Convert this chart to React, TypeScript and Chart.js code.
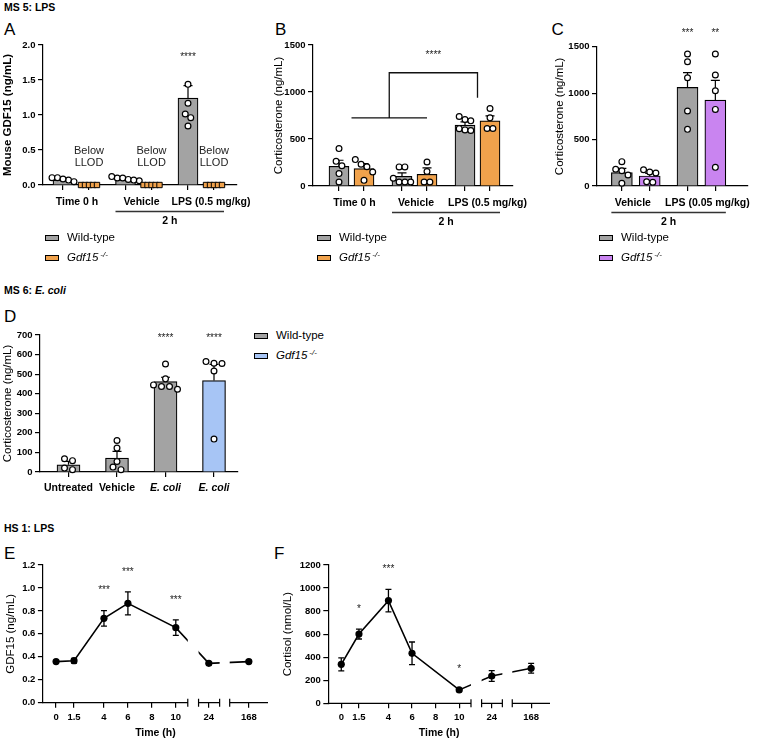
import { useEffect, useRef } from 'react';
import { Chart, registerables, LinearScale } from 'chart.js';

Chart.register(...registerables);

const FONT = '"Liberation Sans", Arial, Helvetica, sans-serif';
Chart.defaults.font.family = FONT;
Chart.defaults.color = '#000';

const GRAY = '#a3a3a3';
const ORANGE = '#f0a24c';
const PURPLE = '#c984f0';
const BLUE = '#a7c5f5';

// ---------------- DATA ----------------
// Panel A (MS 5: LPS, mouse GDF15)
const A_GROUPS = ['Time 0 h', 'Vehicle', 'LPS (0.5 mg/kg)'];
const A_WT_MEAN = [0.07, 0.075, 1.24];
const A_WT_SEM = [0.012, 0.01, 0.18];
const A_WT_DOTS = [
  [0.07, 0.105, 0.105, 0.086, 0.048],
  [0.06, 0.1, 0.12, 0.1, 0.08, 0.07],
  [1.438, 1.167, 1.014, 0.962, 0.843],
];
const A_KO_DOTS = [
  [0, 0, 0, 0, 0],
  [0, 0, 0, 0, 0],
  [0, 0, 0, 0, 0],
];
const A_Y_TICKS = [0, 0.5, 1, 1.5, 2];

// Panel B (corticosterone, LPS 0.5 mg/kg)
const B_GROUPS = ['Time 0 h', 'Vehicle', 'LPS (0.5 mg/kg)'];
const B_WT_MEAN = [210, 103, 647];
const B_WT_SEM = [64, 36, 36];
const B_WT_DOTS = [
  [398, 262, 215, 132, 43],
  [203, 203, 83, 43, 43, 43],
  [740, 707, 693, 610, 597, 590],
];
const B_KO_MEAN = [185, 124, 693];
const B_KO_SEM = [53, 68, 54];
const B_KO_DOTS = [
  [281, 231, 204, 149, 60],
  [256, 154, 43, 43],
  [825, 725, 611, 611],
];
const B_Y_TICKS = [0, 500, 1000, 1500];

// Panel C (corticosterone, LPS 0.05 mg/kg)
const C_GROUPS = ['Vehicle', 'LPS (0.05 mg/kg)'];
const C_WT_MEAN = [144, 1062];
const C_WT_SEM = [46, 158];
const C_WT_DOTS = [
  [262, 180, 165, 118, 29],
  [1421, 1338, 1166, 807, 610],
];
const C_KO_MEAN = [108, 926];
const C_KO_SEM = [28, 211];
const C_KO_DOTS = [
  [175, 150, 140, 45, 40],
  [1421, 1195, 1026, 825, 201],
];
const C_Y_TICKS = [0, 500, 1000, 1500];

// Panel D (MS 6: E. coli)
const D_GROUPS = ['Untreated', 'Vehicle', 'E. coli', 'E. coli'];
const D_MEAN = [37, 71, 462, 467];
const D_SEM = [17, 34, 22, 83];
const D_DOTS = [
  [58, 68, 12, 20],
  [161, 122, 54, 25, 12],
  [552, 476, 445, 437, 437, 423],
  [564, 556, 554, 516, 168],
];
const D_Y_TICKS = [0, 100, 200, 300, 400, 500, 600, 700];

// Panels E, F (HS 1: LPS, humans)
const TIMES = [0, 1.5, 4, 6, 10, 24, 168];
const X_TICKS = [0, 1.5, 4, 6, 8, 10, 24, 168];
const E_MEAN = [0.358, 0.366, 0.735, 0.866, 0.654, 0.343, 0.358];
const E_SEM = [0.01, 0.02, 0.068, 0.1, 0.068, 0.01, 0.01];
const E_STARS = ['', '', '***', '***', '***', '', ''];
const E_Y_TICKS = [0, 0.2, 0.4, 0.6, 0.8, 1.0, 1.2];
const F_MEAN = [338, 601, 891, 434, 116, 237, 304];
const F_SEM = [57, 43, 97, 98, 8, 47, 42];
const F_STARS = ['', '*', '***', '', '*', '', ''];
const F_Y_TICKS = [0, 200, 400, 600, 800, 1000, 1200];

// ---------------- BROKEN TIME AXIS ----------------
const SEG = [
  { r0: -1.1, r1: 11, v0: -1.1 },
  { r0: 23.14, r1: 24.9, v0: 11.9 },
  { r0: 166.4, r1: 169.6, v0: 14.5 },
];
const V_MIN = -1.1;
const V_MAX = 17.7;

function toVirtual(v: number): number {
  for (let i = 0; i < SEG.length; i++) {
    const s = SEG[i];
    if (v < s.r0 && i > 0) {
      const p = SEG[i - 1];
      const pe = p.v0 + (p.r1 - p.r0);
      return pe + ((v - p.r1) / (s.r0 - p.r1)) * (s.v0 - pe);
    }
    if (v <= s.r1 || i === SEG.length - 1) return s.v0 + (v - s.r0);
  }
  return v;
}

class BrokenScale extends (LinearScale as any) {
  static id = 'broken';
  static defaults = (LinearScale as any).defaults;
  getUserBounds() {
    return { min: V_MIN, max: V_MAX, minDefined: false, maxDefined: false };
  }
  determineDataLimits() {
    (this as any).min = V_MIN;
    (this as any).max = V_MAX;
  }
  getPixelForValue(value: any) {
    if (value === null || value === undefined || isNaN(value)) return NaN;
    return super.getPixelForValue(toVirtual(Number(value)));
  }
}
Chart.register(BrokenScale as any);

// ---------------- HELPERS ----------------
function swarm(vals: number[], pxPerUnit: number, spacing: number, thresh: number) {
  const idx = vals.map((_, i) => i).sort((a, b) => vals[b] - vals[a]);
  const rows: number[][] = [];
  let cur: number[] = [];
  for (const i of idx) {
    if (cur.length && (vals[cur[cur.length - 1]] - vals[i]) * pxPerUnit > thresh) {
      rows.push(cur);
      cur = [];
    }
    cur.push(i);
  }
  if (cur.length) rows.push(cur);
  const off = new Array(vals.length).fill(0);
  rows.forEach((r) => r.forEach((i, k) => (off[i] = (k - (r.length - 1) / 2) * spacing)));
  return off;
}

function drawText(ctx: CanvasRenderingContext2D, str: string, x: number, y: number, size: number, weight = 'normal', color = '#000') {
  ctx.font = `normal ${weight} ${size}px ${FONT}`;
  ctx.fillStyle = color;
  ctx.textAlign = 'center';
  ctx.textBaseline = 'middle';
  ctx.fillText(str, x, y);
}

const axisCommon = {
  grid: { drawOnChartArea: false, tickLength: 5, color: '#000', lineWidth: 1.2 },
  border: { color: '#000', width: 1.2 },
};

function yAxis(sp: any, yw: number) {
  return {
    type: 'linear',
    position: 'left',
    min: 0,
    max: sp.yMax,
    bounds: 'data',
    afterBuildTicks: (s: any) => {
      s.ticks = sp.yTicks.map((v: number) => ({ value: v }));
    },
    ticks: {
      callback: (v: any) => Number(v).toFixed(sp.yDecimals),
      font: { size: 9.5, weight: 'bold' },
      color: '#000',
      padding: 2.5,
      autoSkip: false,
    },
    ...axisCommon,
    title: {
      display: true,
      text: sp.yTitle,
      font: { size: 11.5, weight: sp.yTitleBold ? 'bold' : 'normal' },
      color: '#000',
      padding: { top: 0, bottom: 0 },
    },
    afterFit: (s: any) => {
      s.width = yw;
    },
  };
}

// ---------------- BAR PANELS ----------------
function buildBarConfig(sp: any) {
  const bars: any[] = [];
  sp.groups.forEach((_: string, g: number) =>
    sp.series.forEach((se: any, s: number) => {
      bars.push({
        g,
        s,
        x: sp.start + g * sp.group + s * sp.pair,
        mean: se.means[g],
        sem: se.sems[g],
        dots: se.dots[g],
        color: Array.isArray(se.color) ? se.color[g] : se.color,
        llod: !!se.llod,
      });
    })
  );
  const find = (g: number, s: number) => bars.find((b) => b.g === g && b.s === s);
  const centers = sp.groups.map((_: string, g: number) => {
    const bs = bars.filter((b) => b.g === g);
    return bs.reduce((a, b) => a + b.x, 0) / bs.length;
  });
  const labelPos = centers.map((c: number, g: number) => c + (sp.labelShift ? sp.labelShift[g] : 0));
  const pxPerUnit = (sp.B - sp.T) / sp.yMax;
  const dotPts: any[] = [];
  const llodPts: any[] = [];
  bars.forEach((b) => {
    if (b.llod) {
      const n = b.dots.length;
      b.dots.forEach((v: number, k: number) => llodPts.push({ x: b.x + (k - (n - 1) / 2) * 4, y: v }));
    } else {
      const off = swarm(b.dots, pxPerUnit, sp.dotSpacing, 5.5);
      b.dots.forEach((v: number, k: number) => dotPts.push({ x: b.x + off[k], y: v }));
    }
  });
  const solid = bars.filter((b) => !b.llod && b.mean != null);
  const xw = sp.R - sp.L;
  const yw = sp.L - sp.canvasLeft;

  const plugin = {
    id: 'barAnno',
    afterDatasetDraw(chart: any, args: any) {
      if (args.index !== 0) return;
      const ctx = chart.ctx;
      const xs = chart.scales.x;
      const ys = chart.scales.y;
      ctx.save();
      ctx.strokeStyle = '#000';
      ctx.lineWidth = 1.2;
      for (const b of solid) {
        const x = xs.getPixelForValue(b.x);
        const y1 = ys.getPixelForValue(b.mean);
        const y2 = ys.getPixelForValue(b.mean + b.sem);
        ctx.beginPath();
        ctx.moveTo(x, y1);
        ctx.lineTo(x, y2);
        ctx.moveTo(x - 4.5, y2);
        ctx.lineTo(x + 4.5, y2);
        ctx.stroke();
      }
      ctx.restore();
    },
    afterDraw(chart: any) {
      const ctx = chart.ctx;
      const xs = chart.scales.x;
      const ys = chart.scales.y;
      const area = chart.chartArea;
      ctx.save();
      if (sp.stars) {
        for (const st of sp.stars) {
          const b = find(st.g, st.s);
          drawText(ctx, st.text, xs.getPixelForValue(b.x), ys.getPixelForValue(sp.starLevel), 10, 'normal', '#222');
        }
      }
      if (sp.llodLevel != null) {
        bars
          .filter((b) => b.llod)
          .forEach((b) => {
            const x = xs.getPixelForValue(b.x);
            const y = ys.getPixelForValue(sp.llodLevel);
            drawText(ctx, 'Below', x, y, 11, 'normal', '#222');
            drawText(ctx, 'LLOD', x, y + 12, 11, 'normal', '#222');
          });
      }
      if (sp.bracket) {
        const br = sp.bracket;
        const xa = xs.getPixelForValue(centers[br.lowFromGroup]);
        const lt = find(br.lowTo[0], br.lowTo[1]);
        const xb = xs.getPixelForValue(lt.x);
        const xm = (xa + xb) / 2;
        const xr = xs.getPixelForValue(centers[br.rightGroup]);
        const yl = ys.getPixelForValue(br.lowY);
        const yt = ys.getPixelForValue(br.topY);
        const yr = ys.getPixelForValue(br.rightY);
        ctx.strokeStyle = '#111';
        ctx.lineWidth = 1.3;
        ctx.beginPath();
        ctx.moveTo(xa, yl);
        ctx.lineTo(xb, yl);
        ctx.moveTo(xm, yl);
        ctx.lineTo(xm, yt);
        ctx.lineTo(xr, yt);
        ctx.lineTo(xr, yr);
        ctx.stroke();
        drawText(ctx, br.text, (xm + xr) / 2, ys.getPixelForValue(br.textY), 10, 'normal', '#222');
      }
      if (sp.underline) {
        const u = sp.underline;
        const b1 = find(u.from[0], u.from[1]);
        const b2 = find(u.to[0], u.to[1]);
        const x1 = xs.getPixelForValue(b1.x) - sp.barWidth / 2;
        const x2 = xs.getPixelForValue(b2.x) + sp.barWidth / 2;
        const y = area.bottom + 26.5;
        ctx.strokeStyle = '#333';
        ctx.lineWidth = 1.3;
        ctx.beginPath();
        ctx.moveTo(x1, y);
        ctx.lineTo(x2, y);
        ctx.stroke();
        drawText(ctx, u.label, (x1 + x2) / 2, area.bottom + 36.5, 10.5, 'bold', '#000');
      }
      ctx.restore();
    },
  };

  const xBase = {
    type: 'linear',
    min: 0,
    max: xw,
    bounds: 'data',
    offset: false,
  };

  return {
    type: 'bar',
    data: {
      datasets: [
        {
          type: 'bar',
          data: solid.map((b) => ({ x: b.x, y: b.mean })),
          backgroundColor: solid.map((b) => b.color),
          borderColor: '#000',
          borderWidth: 1.2,
          barThickness: sp.barWidth,
          order: 2,
          xAxisID: 'x',
          yAxisID: 'y',
        },
        {
          type: 'scatter',
          data: dotPts,
          pointRadius: 2.9,
          pointBackgroundColor: '#fff',
          pointBorderColor: '#000',
          pointBorderWidth: 1.2,
          order: 1,
          clip: false,
          xAxisID: 'x',
          yAxisID: 'y',
        },
        {
          type: 'scatter',
          data: llodPts,
          pointStyle: 'rect',
          pointRadius: 3.8,
          pointBackgroundColor: ORANGE,
          pointBorderColor: '#000',
          pointBorderWidth: 1,
          order: 0,
          clip: false,
          xAxisID: 'x',
          yAxisID: 'y',
        },
      ],
    },
    options: {
      responsive: false,
      maintainAspectRatio: false,
      animation: false,
      events: [],
      layout: {
        padding: {
          top: sp.T - sp.canvasTop,
          right: sp.canvasRight - sp.R,
          bottom: sp.canvasBottom - (sp.B + 26),
          left: 0,
        },
      },
      plugins: { legend: { display: false }, tooltip: { enabled: false } },
      scales: {
        x: {
          ...xBase,
          position: 'bottom',
          weight: 0,
          afterBuildTicks: (s: any) => {
            s.ticks = bars.map((b) => ({ value: b.x }));
          },
          ticks: { display: false, autoSkip: false },
          grid: { ...axisCommon.grid, offset: false },
          border: axisCommon.border,
          afterFit: (s: any) => {
            s.height = 6;
          },
        },
        x2: {
          ...xBase,
          axis: 'x',
          position: 'bottom',
          weight: 1,
          afterBuildTicks: (s: any) => {
            s.ticks = labelPos.map((v: number) => ({ value: v }));
          },
          ticks: {
            callback: (_v: any, i: number) => sp.groups[i],
            autoSkip: false,
            maxRotation: 0,
            minRotation: 0,
            color: '#000',
            padding: sp.labelPad,
            font: (c: any) => ({
              size: 10.5,
              weight: 'bold',
              style: sp.groups[c.index] && sp.groups[c.index].indexOf('E. coli') >= 0 ? 'italic' : 'normal',
            }),
          },
          grid: { display: false, drawTicks: false, offset: false },
          border: { display: false },
          afterFit: (s: any) => {
            s.height = 20;
          },
        },
        y: yAxis(sp, yw),
      },
    },
    plugins: [plugin],
  };
}

// ---------------- LINE PANELS ----------------
function buildLineConfig(sp: any) {
  const yw = sp.L - sp.canvasLeft;
  const plugin = {
    id: 'lineAnno',
    afterDatasetsDraw(chart: any) {
      const ctx = chart.ctx;
      const xs = chart.scales.x;
      const ys = chart.scales.y;
      const area = chart.chartArea;
      ctx.save();
      // gaps of the broken axis
      ctx.fillStyle = '#fff';
      for (let i = 0; i < SEG.length - 1; i++) {
        const a = xs.getPixelForValue(SEG[i].r1);
        const b = xs.getPixelForValue(SEG[i + 1].r0);
        ctx.fillRect(a, area.top - 2, b - a, area.bottom - area.top);
      }
      // error bars
      ctx.strokeStyle = '#000';
      ctx.lineWidth = 1.3;
      TIMES.forEach((t, i) => {
        const x = xs.getPixelForValue(t);
        const y1 = ys.getPixelForValue(sp.mean[i] - sp.sem[i]);
        const y2 = ys.getPixelForValue(sp.mean[i] + sp.sem[i]);
        ctx.beginPath();
        ctx.moveTo(x, y1);
        ctx.lineTo(x, y2);
        ctx.moveTo(x - 3, y1);
        ctx.lineTo(x + 3, y1);
        ctx.moveTo(x - 3, y2);
        ctx.lineTo(x + 3, y2);
        ctx.stroke();
        if (sp.stars[i]) drawText(ctx, sp.stars[i], x, y2 - 20, 10, 'normal', '#222');
      });
      // axis segments
      const y = area.bottom;
      ctx.lineWidth = 1.2;
      ctx.beginPath();
      SEG.forEach((s, i) => {
        const a = i === 0 ? area.left : xs.getPixelForValue(s.r0);
        const b = i === SEG.length - 1 ? area.right : xs.getPixelForValue(s.r1);
        ctx.moveTo(a - (i === 0 ? 0.6 : 0), y);
        ctx.lineTo(b, y);
        if (i > 0) {
          ctx.moveTo(a, y - 4);
          ctx.lineTo(a, y + 4);
        }
        if (i < SEG.length - 1) {
          ctx.moveTo(b, y - 4);
          ctx.lineTo(b, y + 4);
        }
      });
      ctx.stroke();
      ctx.restore();
    },
  };
  return {
    type: 'line',
    data: {
      datasets: [
        {
          data: TIMES.map((t, i) => ({ x: t, y: sp.mean[i] })),
          borderColor: '#000',
          borderWidth: 1.6,
          pointRadius: 3.6,
          pointBackgroundColor: '#000',
          pointBorderColor: '#000',
          pointBorderWidth: 0,
          tension: 0,
        },
      ],
    },
    options: {
      responsive: false,
      maintainAspectRatio: false,
      animation: false,
      events: [],
      layout: {
        padding: { top: sp.T - sp.canvasTop, right: sp.canvasRight - sp.R, bottom: 0, left: 0 },
      },
      plugins: { legend: { display: false }, tooltip: { enabled: false } },
      scales: {
        x: {
          type: 'broken',
          position: 'bottom',
          bounds: 'data',
          offset: false,
          afterBuildTicks: (s: any) => {
            s.ticks = X_TICKS.map((v) => ({ value: v }));
          },
          ticks: {
            callback: (v: any) => String(v),
            autoSkip: false,
            maxRotation: 0,
            minRotation: 0,
            font: { size: 9.5, weight: 'bold' },
            color: '#000',
            padding: 3.6,
          },
          grid: { drawOnChartArea: false, tickLength: 5, color: '#000', lineWidth: 1.2 },
          border: { display: false },
          title: {
            display: true,
            text: 'Time (h)',
            font: { size: 10.5, weight: 'bold' },
            color: '#000',
            padding: { top: 0, bottom: 3.7 },
          },
          afterFit: (s: any) => {
            s.height = sp.canvasBottom - sp.B;
          },
        },
        y: yAxis(sp, yw),
      },
    },
    plugins: [plugin],
  };
}

// ---------------- SPECS ----------------
const SPEC_A = {
  L: 43, T: 45, R: 237, B: 185,
  canvasLeft: 1, canvasTop: 30, canvasRight: 262, canvasBottom: 233,
  yMax: 2, yTicks: A_Y_TICKS, yDecimals: 1, yTitle: 'Mouse GDF15 (ng/mL)', yTitleBold: true,
  groups: A_GROUPS, labelShift: [1, 3, 10],
  series: [
    { color: GRAY, means: A_WT_MEAN, sems: A_WT_SEM, dots: A_WT_DOTS },
    { color: ORANGE, means: [null, null, null], sems: [0, 0, 0], dots: A_KO_DOTS, llod: true },
  ],
  start: 20, pair: 26, group: 62.5, barWidth: 20, dotSpacing: 5.5, labelPad: 4.7,
  stars: [{ g: 2, s: 0, text: '****' }], starLevel: 1.83, llodLevel: 0.49,
  underline: { from: [1, 0], to: [2, 1], label: '2 h' },
};

const SPEC_B = {
  L: 313, T: 45, R: 513, B: 186,
  canvasLeft: 272, canvasTop: 30, canvasRight: 545, canvasBottom: 234,
  yMax: 1500, yTicks: B_Y_TICKS, yDecimals: 0, yTitle: 'Corticosterone (ng/mL)', yTitleBold: false,
  groups: B_GROUPS, labelShift: [3, 1.5, 10],
  series: [
    { color: GRAY, means: B_WT_MEAN, sems: B_WT_SEM, dots: B_WT_DOTS },
    { color: ORANGE, means: B_KO_MEAN, sems: B_KO_SEM, dots: B_KO_DOTS },
  ],
  start: 26, pair: 25, group: 63, barWidth: 20, dotSpacing: 5.8, labelPad: 4.7,
  bracket: { lowFromGroup: 0, lowTo: [1, 1], rightGroup: 2, lowY: 725, topY: 1205, rightY: 940, text: '****', textY: 1390 },
  underline: { from: [1, 0], to: [2, 1], label: '2 h' },
};

const SPEC_C = {
  L: 597, T: 46.7, R: 748, B: 186,
  canvasLeft: 553, canvasTop: 18, canvasRight: 757, canvasBottom: 234,
  yMax: 1500, yTicks: C_Y_TICKS, yDecimals: 0, yTitle: 'Corticosterone (ng/mL)', yTitleBold: false,
  groups: C_GROUPS, labelShift: [-3, 6],
  series: [
    { color: GRAY, means: C_WT_MEAN, sems: C_WT_SEM, dots: C_WT_DOTS },
    { color: PURPLE, means: C_KO_MEAN, sems: C_KO_SEM, dots: C_KO_DOTS },
  ],
  start: 25, pair: 28, group: 66, barWidth: 21, dotSpacing: 6.2, labelPad: 4.7,
  stars: [{ g: 1, s: 0, text: '***' }, { g: 1, s: 1, text: '**' }], starLevel: 1645,
  underline: { from: [0, 0], to: [1, 1], label: '2 h' },
};

const SPEC_D = {
  L: 40, T: 335, R: 238, B: 472,
  canvasLeft: 1, canvasTop: 320, canvasRight: 250, canvasBottom: 498,
  yMax: 700, yTicks: D_Y_TICKS, yDecimals: 0, yTitle: 'Corticosterone (ng/mL)', yTitleBold: false,
  groups: D_GROUPS,
  series: [{ color: [GRAY, GRAY, GRAY, BLUE], means: D_MEAN, sems: D_SEM, dots: D_DOTS }],
  start: 28.5, pair: 0, group: 48.5, barWidth: 23, dotSpacing: 8, labelPad: 4,
  stars: [{ g: 2, s: 0, text: '****' }, { g: 3, s: 0, text: '****' }], starLevel: 683,
};

const SPEC_E = {
  L: 43.3, T: 565, R: 268, B: 702.7,
  canvasLeft: 4.4, canvasTop: 550, canvasRight: 276, canvasBottom: 743,
  yMax: 1.2, yTicks: E_Y_TICKS, yDecimals: 1, yTitle: 'GDF15 (ng/mL)', yTitleBold: false,
  mean: E_MEAN, sem: E_SEM, stars: E_STARS,
};

const SPEC_F = {
  L: 328.3, T: 565, R: 550, B: 703.3,
  canvasLeft: 281, canvasTop: 550, canvasRight: 560, canvasBottom: 743,
  yMax: 1200, yTicks: F_Y_TICKS, yDecimals: 0, yTitle: 'Cortisol (nmol/L)', yTitleBold: false,
  mean: F_MEAN, sem: F_SEM, stars: F_STARS,
};

// ---------------- COMPONENTS ----------------
function ChartBox({ sp, kind }: { sp: any; kind: 'bar' | 'line' }) {
  const ref = useRef<HTMLCanvasElement>(null);
  const w = Math.round(sp.canvasRight - sp.canvasLeft);
  const h = Math.round(sp.canvasBottom - sp.canvasTop);
  useEffect(() => {
    if (!ref.current) return;
    const cfg: any = kind === 'bar' ? buildBarConfig(sp) : buildLineConfig(sp);
    const chart = new Chart(ref.current, cfg);
    return () => chart.destroy();
  }, []);
  return (
    <canvas
      ref={ref}
      width={w}
      height={h}
      style={{ position: 'absolute', left: sp.canvasLeft, top: sp.canvasTop, width: w, height: h }}
    />
  );
}

function Txt({ x, cy, size, bold, children }: any) {
  return (
    <div
      style={{
        position: 'absolute',
        left: x,
        top: cy - 0.49 * size,
        fontSize: size,
        lineHeight: `${size}px`,
        fontWeight: bold ? 'bold' : 'normal',
        whiteSpace: 'nowrap',
        fontFamily: FONT,
      }}
    >
      {children}
    </div>
  );
}

function KoLabel() {
  return (
    <>
      <i>Gdf15</i>
      <span style={{ fontSize: 8, fontStyle: 'italic', position: 'relative', top: -4, marginLeft: 2 }}>-/-</span>
    </>
  );
}

function LegendItem({ x, cy, color, children }: any) {
  return (
    <>
      <div
        style={{
          position: 'absolute',
          left: x,
          top: cy - 3,
          width: 14,
          height: 6,
          boxSizing: 'border-box',
          border: '1.2px solid #000',
          background: color,
        }}
      />
      <Txt x={x + 22} cy={cy} size={11.5}>
        {children}
      </Txt>
    </>
  );
}

export default function App() {
  return (
    <div
      style={{
        position: 'absolute',
        left: 0,
        top: 0,
        width: 757,
        height: 743,
        background: '#fff',
        color: '#000',
        overflow: 'hidden',
        fontFamily: FONT,
      }}
    >
      <Txt x={4} cy={7.3} size={10.5} bold>
        MS 5: LPS
      </Txt>
      <Txt x={4} cy={29} size={17}>A</Txt>
      <Txt x={275} cy={29} size={17}>B</Txt>
      <Txt x={551.5} cy={29} size={17}>C</Txt>

      <ChartBox sp={SPEC_A} kind="bar" />
      <ChartBox sp={SPEC_B} kind="bar" />
      <ChartBox sp={SPEC_C} kind="bar" />

      <LegendItem x={45} cy={238} color={GRAY}>Wild-type</LegendItem>
      <LegendItem x={45} cy={258} color={ORANGE}><KoLabel /></LegendItem>
      <LegendItem x={317} cy={238} color={GRAY}>Wild-type</LegendItem>
      <LegendItem x={317} cy={258} color={ORANGE}><KoLabel /></LegendItem>
      <LegendItem x={599} cy={238} color={GRAY}>Wild-type</LegendItem>
      <LegendItem x={599} cy={258} color={PURPLE}><KoLabel /></LegendItem>

      <Txt x={4} cy={290} size={10.5} bold>
        MS 6: <i>E. coli</i>
      </Txt>
      <Txt x={4} cy={316.7} size={17}>D</Txt>
      <ChartBox sp={SPEC_D} kind="bar" />
      <LegendItem x={254} cy={336} color={GRAY}>Wild-type</LegendItem>
      <LegendItem x={254} cy={356} color={BLUE}><KoLabel /></LegendItem>

      <Txt x={4} cy={528} size={10.5} bold>
        HS 1: LPS
      </Txt>
      <Txt x={4} cy={553} size={17}>E</Txt>
      <Txt x={274} cy={553} size={17}>F</Txt>
      <ChartBox sp={SPEC_E} kind="line" />
      <ChartBox sp={SPEC_F} kind="line" />
    </div>
  );
}
